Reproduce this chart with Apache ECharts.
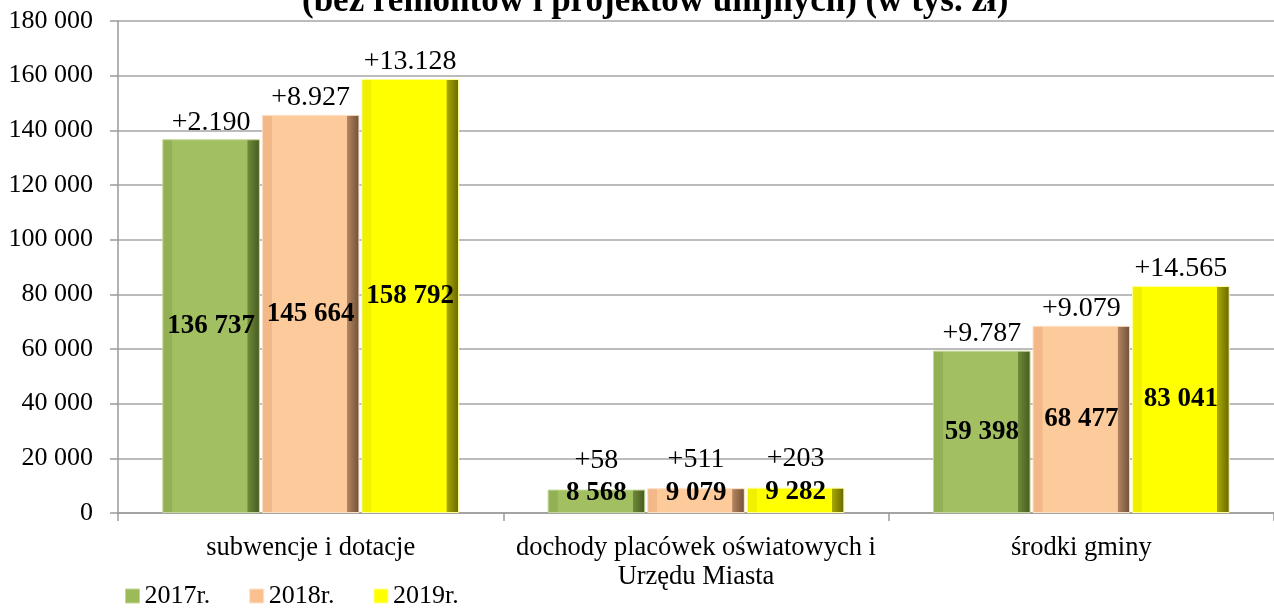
<!DOCTYPE html>
<html>
<head>
<meta charset="utf-8">
<script src="https://cdn.jsdelivr.net/npm/echarts@6/dist/echarts.min.js"></script>
<style>
  html, body { margin: 0; padding: 0; background: #fff; }
  #chart { width: 1274px; height: 608px; }
</style>
</head>
<body>
<div id="chart"></div>
<script>
// dane wykresu (w tys. zł)
const categories = ['subwencje i dotacje', 'dochody placówek oświatowych i\nUrzędu Miasta', 'środki gminy'];
const years = ['2017r.', '2018r.', '2019r.'];
const values2017 = [136737, 8568, 59398];
const values2018 = [145664, 9079, 68477];
const values2019 = [158792, 9282, 83041];
const diffs2017 = ['+2.190', '+58', '+9.787'];
const diffs2018 = ['+8.927', '+511', '+9.079'];
const diffs2019 = ['+13.128', '+203', '+14.565'];
const yTicks = [0, 20000, 40000, 60000, 80000, 100000, 120000, 140000, 160000, 180000];

const FONT = '"Liberation Serif", "Times New Roman", serif';
const fmt = v => String(v).replace(/\B(?=(\d{3})+(?!\d))/g, ' ');

// kolory z "fazowaniem" (bevel) jak w Excelu
function bevel(dark, face, shade, deep) {
  return new echarts.graphic.LinearGradient(0, 0, 1, 0, [
    { offset: 0, color: dark },
    { offset: 0.1, color: dark },
    { offset: 0.105, color: face },
    { offset: 0.87, color: face },
    { offset: 0.875, color: shade },
    { offset: 1, color: deep }
  ]);
}
const colors = [
  { fill: bevel('#93b055', '#a2c062', '#6e8a38', '#46591f'), border: '#c3d79a', legend: '#9bbb59' },
  { fill: bevel('#f2b887', '#fcca9b', '#b48560', '#6e4f36'), border: '#fde1c6', legend: '#fac090' },
  { fill: bevel('#f0f000', '#ffff00', '#a8a800', '#666600'), border: '#ffff99', legend: '#ffff00' }
];

const valueSets = [values2017, values2018, values2019];
const diffSets = [diffs2017, diffs2018, diffs2019];

const chart = echarts.init(document.getElementById('chart'));

const series = [];
valueSets.forEach((vals, i) => {
  series.push({
    name: years[i],
    type: 'bar',
    xAxisIndex: 0,
    barCategoryGap: '23%',
    barGap: '2%',
    data: vals.map(v => ({
      value: v,
      label: { offset: [0, v < 20000 ? -8 : 0] }
    })),
    itemStyle: { color: colors[i].fill, borderColor: colors[i].border, borderWidth: 1 },
    label: {
      show: true,
      position: 'inside',
      formatter: p => fmt(p.value),
      fontFamily: FONT,
      fontSize: 27,
      fontWeight: 'bold',
      color: '#000'
    }
  });
});
// niewidoczne słupki na drugiej osi - tylko etykiety przyrostów
valueSets.forEach((vals, i) => {
  series.push({
    name: 'diff' + i,
    type: 'bar',
    xAxisIndex: 1,
    barCategoryGap: '23%',
    barGap: '2%',
    silent: true,
    data: vals.map(v => ({
      value: v,
      label: { distance: v < 20000 ? 15 : 3 }
    })),
    itemStyle: { color: 'rgba(0,0,0,0)' },
    label: {
      show: true,
      position: 'top',
      formatter: p => diffSets[i][p.dataIndex],
      fontFamily: FONT,
      fontSize: 28,
      color: '#000'
    }
  });
});

chart.setOption({
  animation: false,
  backgroundColor: '#fff',
  title: {
    text: '(bez remontów i projektów unijnych) (w tys. zł)',
    left: 297,
    top: -21,
    textStyle: { fontFamily: FONT, fontSize: 35, fontWeight: 'bold', color: '#000' }
  },
  legend: {
    data: years.map((y, i) => ({ name: y, itemStyle: { color: colors[i].legend, borderColor: colors[i].border, borderWidth: 1 } })),
    left: 120,
    top: 578,
    icon: 'rect',
    itemWidth: 14,
    itemHeight: 14,
    itemGap: 39,
    textStyle: { fontFamily: FONT, fontSize: 26, color: '#000', padding: [0, 0, 0, 0] }
  },
  grid: { left: 118, right: 0, top: 21, bottom: 95 },
  xAxis: [
    {
      type: 'category',
      data: categories,
      axisLine: { lineStyle: { color: '#9a9a9a', width: 1.5 } },
      axisTick: { show: true, length: 8, lineStyle: { color: '#9a9a9a', width: 1.5 } },
      axisLabel: { fontFamily: FONT, fontSize: 26.5, color: '#000', margin: 21, lineHeight: 29, interval: 0 }
    },
    {
      type: 'category',
      data: categories,
      show: false
    }
  ],
  yAxis: {
    type: 'value',
    min: yTicks[0],
    max: yTicks[yTicks.length - 1],
    interval: yTicks[1] - yTicks[0],
    axisLine: { show: true, lineStyle: { color: '#9a9a9a', width: 1.5 } },
    axisTick: { show: true, length: 8, lineStyle: { color: '#9a9a9a', width: 1.5 } },
    splitLine: { lineStyle: { color: '#a6a6a6', width: 1.5 } },
    axisLabel: { fontFamily: FONT, fontSize: 26, color: '#000', margin: 25, formatter: v => fmt(v) }
  },
  series: series
});
</script>
</body>
</html>
